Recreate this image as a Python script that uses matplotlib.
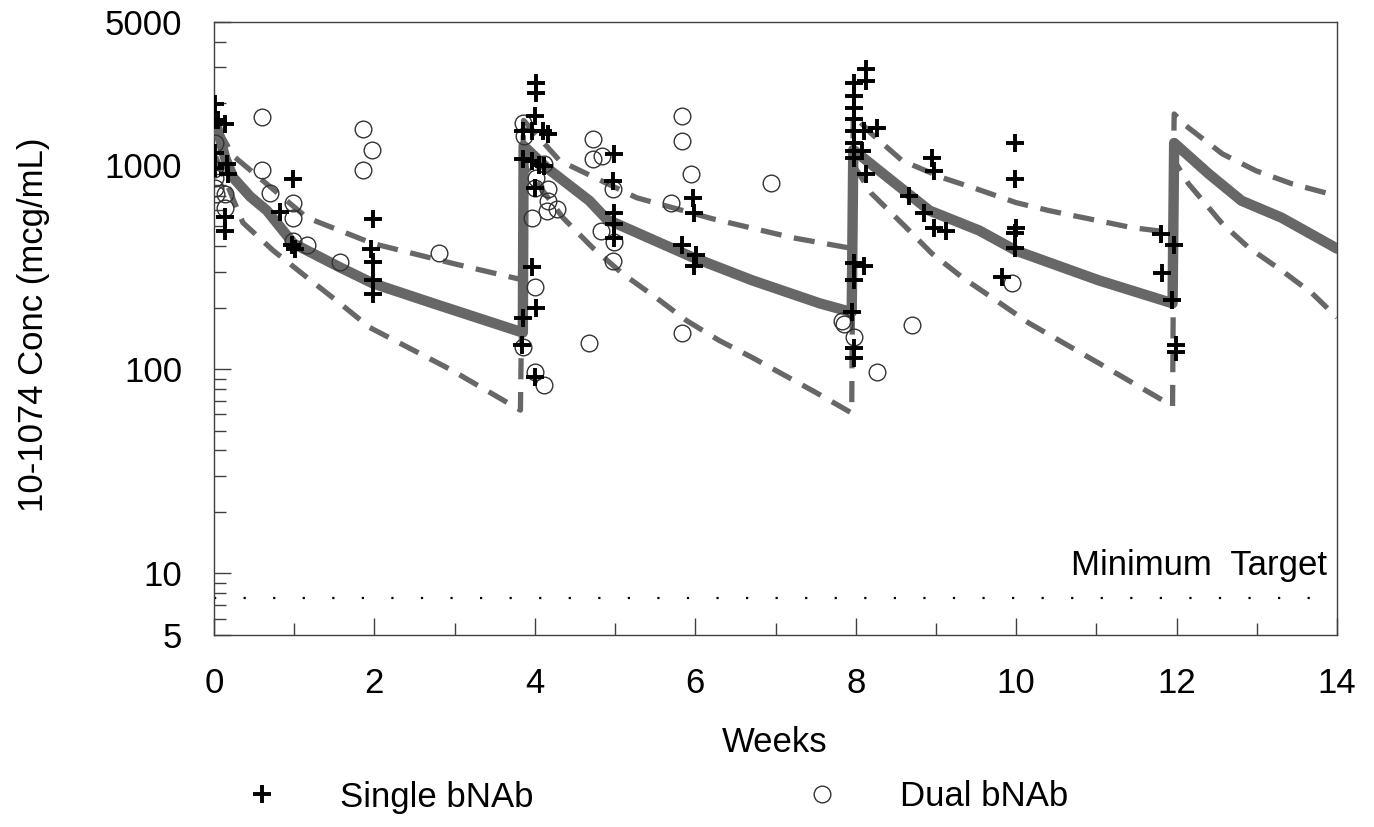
import matplotlib
matplotlib.use("Agg")
import matplotlib.pyplot as plt
from matplotlib.lines import Line2D
from matplotlib.ticker import FixedLocator, NullFormatter

plt.rcParams['font.family'] = ['Liberation Sans', 'DejaVu Sans']

# ---------------- data ----------------
# model median (solid) – weeks / mcg/mL
med_x = [0.02, 0.04, 0.14, 0.24, 0.45, 0.66, 0.99, 1.57, 1.98, 2.73, 3.85,
         3.86, 4.15, 4.68, 4.90, 5.95, 6.71, 7.55, 7.95,
         7.97, 8.50, 8.92, 9.54, 10.0, 11.03, 11.95,
         11.97, 12.40, 12.81, 13.31, 14.0]
med_y = [1600, 1514, 1080, 865, 700, 597, 412, 315, 263, 210, 151,
         1238, 966, 667, 540, 355, 272, 210, 190,
         1183, 807, 597, 477, 380, 272, 210,
         1279, 904, 667, 551, 389]

# upper prediction bound (dashed)
up_x = [0.05, 0.24, 1.16, 1.98, 2.98, 3.82,
        3.86, 4.31, 5.27, 6.21, 7.21, 7.95,
        7.97, 8.20, 8.58, 9.08, 9.50, 10.0, 10.41, 11.44, 11.95,
        11.97, 12.12, 12.57, 12.99, 13.44, 13.90, 14.0]
up_y = [1500, 1106, 551, 412, 329, 275,
        1650, 1047, 690, 545, 440, 390,
        1750, 1416, 1047, 865, 764, 653, 597, 493, 466,
        1774, 1549, 1132, 935, 807, 722, 705]

# lower prediction bound (dashed)
lo_x = [0.02, 0.36, 0.74, 1.16, 1.57, 1.94, 2.94, 3.82,
        3.86, 4.35, 4.72, 5.09, 5.51, 5.89, 6.30, 6.71, 7.50, 7.95,
        7.97, 8.20, 8.63, 8.95, 9.33, 9.75, 10.16, 11.03, 11.95,
        11.97, 12.15, 12.57, 12.90, 13.31, 13.69, 14.0]
lo_y = [1100, 521, 380, 281, 210, 160, 100, 63,
        1000, 551, 393, 294, 224, 173, 138, 114, 77, 61,
        1000, 722, 493, 368, 281, 217, 168, 107, 66,
        1050, 807, 515, 393, 304, 235, 179]

# observed: single bNAb (+)
single_x = [0.01, 0.00, 0.05, 0.14, 0.01, 0.01, 0.16, 0.18, 0.14, 0.14,
            0.99, 0.82, 0.97, 1.01,
            1.98, 1.96, 1.98, 1.98, 1.98,
            4.02, 4.02, 4.00, 3.85, 3.97, 4.10, 4.16, 3.85, 3.97, 4.12, 4.05,
            4.00, 3.97, 4.02, 3.85, 3.84, 4.00,
            4.99, 4.97, 4.99, 4.99, 4.99,
            5.97, 5.99, 5.83, 6.01, 5.99,
            8.13, 8.13, 7.98, 7.98, 7.98, 7.98, 8.26, 7.98, 8.10, 7.98,
            7.98, 8.08, 7.98, 8.13, 7.98, 8.10, 7.98, 7.95, 7.98, 7.98,
            8.67, 8.85, 8.98, 9.13, 8.95, 8.98,
            9.98, 9.98, 10.0, 9.98, 9.98, 9.82,
            11.80, 11.97, 11.82, 11.94, 11.99, 11.99]
single_y = [1977, 1652, 1652, 1581, 1148, 964, 1008, 901, 553, 477,
            851, 585, 403, 388,
            543, 388, 333, 272, 234,
            2512, 2244, 1734, 1466, 1466, 1466, 1420, 1069, 1047, 988, 1000,
            773, 315, 199, 177, 131, 91.5,
            1132, 836, 583, 515, 440,
            690, 583, 403, 360, 321,
            2940, 2570, 2512, 2173, 1897, 1675, 1514, 1466, 1466, 1279,
            1170, 1170, 1082, 904, 329, 321, 272, 190, 127, 113,
            706, 583, 493, 477, 1082, 935,
            1279, 855, 490, 466, 393, 281,
            460, 403, 294, 217, 131, 121]

# observed: dual bNAb (o)
dual_x = [0.60, 0.01, 0.00, 0.01, 0.01, 0.03, 0.14, 0.14, 0.60, 0.70,
          0.99, 0.99, 0.99, 1.16, 1.57, 1.86, 1.97, 1.86, 2.81,
          3.85, 3.87, 4.12, 4.02, 4.00, 4.16, 4.16, 4.27, 4.15, 3.96,
          4.00, 3.85, 4.00, 4.12,
          4.72, 4.72, 4.84, 4.97, 4.83, 4.99, 4.97, 4.68,
          5.84, 5.84, 5.95, 5.70, 5.83, 6.95,
          7.83, 7.86, 7.98, 8.26, 8.70, 9.95]
dual_y = [1714, 1285, 955, 865, 773, 722, 722, 617, 946, 729,
          653, 551, 426, 407, 336, 1500, 1183, 946, 372,
          1603, 1384, 1012, 865, 773, 764, 667, 610, 597, 551,
          251, 128, 97, 84,
          1340, 1069, 1106, 764, 477, 417, 340, 134,
          1734, 1309, 904, 653, 151, 817,
          173, 167, 143, 97, 164, 263]

min_target = 7.6

x_major = [0, 2, 4, 6, 8, 10, 12, 14]
x_minor = [1, 3, 5, 7, 9, 11, 13]
y_major = [5, 10, 100, 1000, 5000]
y_major_labels = ['5', '10', '100', '1000', '5000']

# ---------------- figure ----------------
W, H = 1374, 827
fig = plt.figure(figsize=(W / 100, H / 100), dpi=100)
ax = fig.add_axes([214 / W, 1 - 635 / H, (1337 - 214) / W, (635 - 22) / H])

gray = '#676767'
ax.plot(up_x, up_y, color=gray, lw=3.8, dashes=(4.0, 2.4), zorder=2)
ax.plot(lo_x, lo_y, color=gray, lw=3.8, dashes=(4.0, 2.4), zorder=2)
ax.plot(med_x, med_y, color=gray, lw=7.5, solid_capstyle='round',
        solid_joinstyle='round', zorder=3)

ax.axhline(min_target, color='black', lw=1.6, dashes=(1, 12.3), zorder=2)
ax.text(13.87, 10.9, 'Minimum  Target', ha='right', va='center', fontsize=25)

ax.plot(dual_x, dual_y, linestyle='none', marker='o', ms=12, mfc='none',
        mec='#333333', mew=1.0, zorder=4)
ax.plot(single_x, single_y, linestyle='none', marker='+', ms=13, mec='black',
        mew=2.8, zorder=5)

ax.set_yscale('log')
ax.set_xlim(0, 14)
ax.set_ylim(5, 5000)

ax.xaxis.set_major_locator(FixedLocator(x_major))
ax.xaxis.set_minor_locator(FixedLocator(x_minor))
ax.set_xticklabels([str(v) for v in x_major])

y_minor = [k * 10 ** d for d in range(0, 4) for k in range(2, 10)]
y_minor = [v for v in y_minor if 5 < v < 5000]
ax.yaxis.set_major_locator(FixedLocator(y_major))
ax.yaxis.set_minor_locator(FixedLocator(y_minor))
ax.yaxis.set_minor_formatter(NullFormatter())
ax.set_yticklabels(y_major_labels)

ax.tick_params(which='both', direction='in', colors='#404040', labelcolor='black',
               width=1.0, labelsize=25)
ax.tick_params(which='major', length=12.4)
ax.tick_params(which='minor', length=8.3)
ax.tick_params(axis='y', which='both', pad=23)
ax.tick_params(axis='x', which='both', pad=23)
for s in ax.spines.values():
    s.set_color('#404040')
    s.set_linewidth(1.0)

fig.text(775 / W, 1 - 743 / H, 'Weeks', ha='center', va='center', fontsize=25)
fig.text(34 / W, 1 - 325 / H, '10-1074 Conc (mcg/mL)', ha='center', va='center',
         rotation=90, fontsize=25)

handles = [Line2D([], [], linestyle='none', marker='+', ms=13, mec='black', mew=2.8),
           Line2D([], [], linestyle='none', marker='o', ms=12, mfc='none',
                  mec='#333333', mew=1.0)]
fig.legend(handles, ['Single bNAb', 'Dual bNAb'], loc='center left',
           bbox_to_anchor=(244.6 / W, 1 - 797 / H), ncol=2, frameon=False,
           fontsize=25, handlelength=1.0, handletextpad=1.75, columnspacing=7.8,
           borderpad=0, borderaxespad=0)

fig.savefig('out.png', dpi=100)
